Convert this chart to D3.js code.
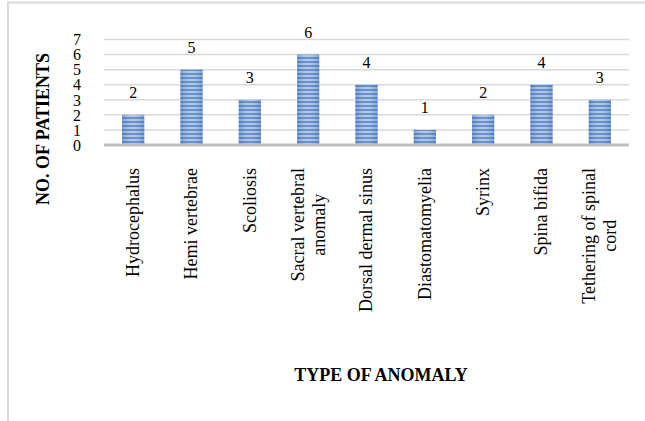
<!DOCTYPE html>
<html><head><meta charset="utf-8">
<script src="https://cdn.jsdelivr.net/npm/d3@7"></script>
<style>body{margin:0;background:#fff}svg{display:block}text{font-family:"Liberation Serif","Times New Roman",serif;fill:#000}</style>
</head><body>
<svg id="c" width="645" height="421"></svg>
<script>
const categories = [["Hydrocephalus"],["Hemi vertebrae"],["Scoliosis"],["Sacral vertebral","anomaly"],["Dorsal dermal sinus"],["Diastomatomyelia"],["Syrinx"],["Spina bifida"],["Tethering of spinal","cord"]];
const values = [2,5,3,6,4,1,2,4,3];
const yTicks = [0,1,2,3,4,5,6,7];
const yTitle = "NO. OF PATIENTS";
const xTitle = "TYPE OF ANOMALY";

const svg = d3.select("#c");
const pLeft = 104, pRight = 629, pTop = 39.5, pBottom = 145;

// border
svg.append("path").attr("d","M8,700 L8,2.5 L700,2.5").attr("fill","none").attr("stroke","#d9d9d9").attr("stroke-width",2);

const defs = svg.append("defs");
const pat = defs.append("pattern").attr("id","stripes").attr("patternUnits","userSpaceOnUse")
  .attr("width",10).attr("height",4).attr("y",pBottom);
pat.append("rect").attr("width",10).attr("height",4).attr("fill","#a7c1e6");
pat.append("rect").attr("width",10).attr("height",2).attr("fill","#5582c2");
const grad = defs.append("linearGradient").attr("id","shade").attr("x1",0).attr("x2",1).attr("y1",0).attr("y2",0);
grad.append("stop").attr("offset","0").attr("stop-color","#3d6cb0").attr("stop-opacity",0.35);
grad.append("stop").attr("offset","0.5").attr("stop-color","#ffffff").attr("stop-opacity",0.12);
grad.append("stop").attr("offset","1").attr("stop-color","#3d6cb0").attr("stop-opacity",0.35);

const x = d3.scaleBand().domain(d3.range(categories.length)).range([pLeft,pRight]).paddingInner(0.62).paddingOuter(0.31);
const y = d3.scaleLinear().domain([0,7]).range([pBottom,pTop]);

// gridlines
svg.append("g").selectAll("line").data(yTicks.filter(d=>d>0)).join("line")
  .attr("x1",pLeft).attr("x2",pRight).attr("y1",d=>y(d)).attr("y2",d=>y(d))
  .attr("stroke","#d9d9d9").attr("stroke-width",1.5);

// y tick labels
svg.append("g").selectAll("text").data(yTicks).join("text")
  .attr("x",77).attr("y",d=>y(d)).attr("dy","0.36em").attr("text-anchor","middle")
  .attr("font-size",16).text(d=>d);

// bars
const bars = svg.append("g");
bars.selectAll("rect.b").data(values).join("rect").attr("class","b")
  .attr("x",(d,i)=>x(i)).attr("width",x.bandwidth())
  .attr("y",d=>y(d)).attr("height",d=>pBottom-y(d)).attr("fill","url(#stripes)");
bars.selectAll("rect.s").data(values).join("rect").attr("class","s")
  .attr("x",(d,i)=>x(i)).attr("width",x.bandwidth())
  .attr("y",d=>y(d)).attr("height",d=>pBottom-y(d)).attr("fill","url(#shade)");

// axis line
svg.append("line").attr("x1",pLeft).attr("x2",pRight).attr("y1",pBottom).attr("y2",pBottom)
  .attr("stroke","#bfbfbf").attr("stroke-width",3);

// data labels
svg.append("g").selectAll("text").data(values).join("text")
  .attr("x",(d,i)=>x(i)+x.bandwidth()/2).attr("y",d=>y(d)-16.5)
  .attr("text-anchor","middle").attr("font-size",16).text(d=>d);

// category labels
const lineH = 21, labelTop = 168;
const cg = svg.append("g");
categories.forEach((lines,i)=>{
  const cx = x(i)+x.bandwidth()/2;
  const g = cg.append("g");
  const n = lines.length;
  const texts = lines.map((t,k)=>g.append("text").attr("font-size",18).attr("text-anchor","middle").text(t));
  const maxW = d3.max(texts, t=>t.node().getComputedTextLength());
  const midY = labelTop + maxW/2;
  texts.forEach((t,k)=>{
    const off = (k-(n-1)/2)*lineH;
    t.attr("transform",`translate(${cx+off},${midY}) rotate(-90)`).attr("dy","0.33em");
  });
});

// axis titles
svg.append("text").attr("transform","translate(43,129) rotate(-90)").attr("dy","0.35em")
  .attr("text-anchor","middle").attr("font-size",18).attr("font-weight","bold").text(yTitle);
svg.append("text").attr("x",381).attr("y",381).attr("text-anchor","middle")
  .attr("font-size",18).attr("font-weight","bold").text(xTitle);
</script>
</body></html>
